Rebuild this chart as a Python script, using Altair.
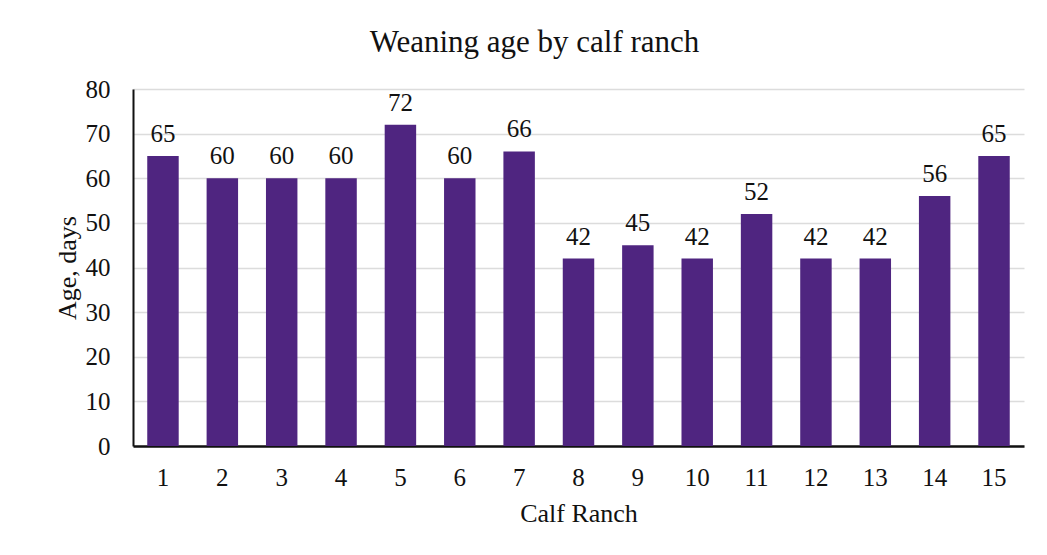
import altair as alt
import pandas as pd

ranches = [str(i) for i in range(1, 16)]
ages = [65, 60, 60, 60, 72, 60, 66, 42, 45, 42, 52, 42, 42, 56, 65]
y_ticks = [0, 10, 20, 30, 40, 50, 60, 70, 80]

df = pd.DataFrame({"ranch": ranches, "age": ages})

FONT = "Liberation Serif"
PURPLE = "#4F2580"

x = alt.X("ranch:N", sort=ranches, title="Calf Ranch",
          scale=alt.Scale(paddingInner=0.47, paddingOuter=0.24),
          axis=alt.Axis(labelAngle=0, ticks=False, domainColor="#111", domainWidth=2.5,
                        labelPadding=19, titlePadding=10, grid=False))
y = alt.Y("age:Q", title="Age, days",
          scale=alt.Scale(domain=[0, 80], nice=False),
          axis=alt.Axis(values=y_ticks, ticks=False, domainColor="#111", domainWidth=2,
                        labelPadding=23, titlePadding=5, gridColor="#dcdcdc", gridWidth=1.5))

bars = alt.Chart(df).mark_bar(color=PURPLE).encode(x=x, y=y)
labels = alt.Chart(df).mark_text(font=FONT, fontSize=25, color="#111", baseline="alphabetic", dy=-14).encode(
    x=alt.X("ranch:N", sort=ranches), y="age:Q", text="age:Q")

chart = (bars + labels).properties(
    width=891, height=357,
    title=alt.TitleParams("Weaning age by calf ranch", font=FONT, fontSize=31, fontWeight="normal",
                          color="#111", anchor="middle", dx=-44, offset=18),
    autosize=alt.AutoSizeParams(type="none"),
    padding={"left": 125, "top": 81, "right": 15, "bottom": 100},
    background="white",
).configure_axis(
    labelFont=FONT, titleFont=FONT, labelFontSize=25, titleFontSize=26,
    labelColor="#111", titleColor="#111", titleFontWeight="normal",
).configure_view(stroke=None)

chart.save("out.html", embed_options={"renderer": "svg", "actions": False})
